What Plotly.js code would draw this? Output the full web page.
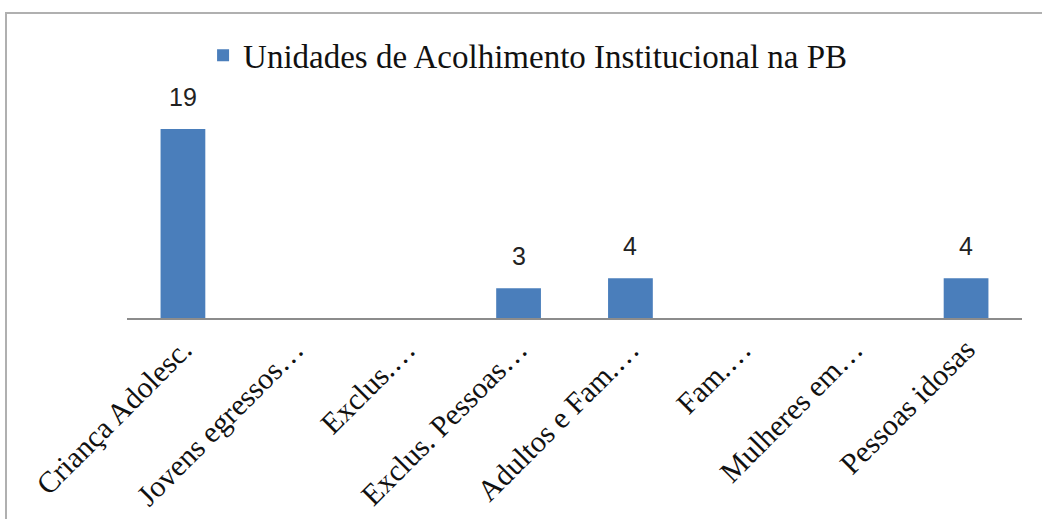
<!DOCTYPE html>
<html>
<head>
<meta charset="utf-8">
<script src="https://cdn.plot.ly/plotly-3.0.1.min.js"></script>
<style>
html,body{margin:0;padding:0;background:#fff;}
#chart{width:1042px;height:519px;position:relative;}
#frame{position:absolute;left:5px;top:12px;width:1100px;height:600px;border-left:2px solid #b0b0b0;border-top:2px solid #b0b0b0;pointer-events:none;}
</style>
</head>
<body>
<div id="chart"></div>
<div id="frame"></div>
<script>
const categories = ["Criança Adolesc.", "Jovens egressos…", "Exclus.…", "Exclus. Pessoas…", "Adultos e Fam.…", "Fam.…", "Mulheres em…", "Pessoas idosas"];
const values = [19, null, null, 3, 4, null, null, 4];
const seriesName = "Unidades de Acolhimento Institucional na PB";

const trace = {
  type: 'bar',
  x: categories,
  y: values,
  name: seriesName,
  marker: {color: '#4a7ebb'},
  showlegend: true
};

const annotations = [];
categories.forEach((c, i) => {
  if (values[i] !== null && values[i] !== undefined) {
    annotations.push({
      x: c, y: values[i], xref: 'x', yref: 'y',
      text: String(values[i]), showarrow: false,
      yanchor: 'bottom', yshift: 16,
      font: {family: 'Liberation Sans, Arial, sans-serif', size: 25, color: '#222'}
    });
  }
});

const layout = {
  width: 1042, height: 519,
  margin: {l: 127, r: 20, t: 119, b: 201},
  paper_bgcolor: '#fff', plot_bgcolor: '#fff',
  bargap: 0.6,
  showlegend: true,
  font: {family: 'serif', color: '#111'},
  legend: {
    orientation: 'h', x: 0.085, xanchor: 'left', y: 1.32, yanchor: 'middle',
    font: {family: 'serif', size: 33, color: '#111'},
    bgcolor: 'rgba(0,0,0,0)'
  },
  annotations: annotations,
  xaxis: {
    type: 'category',
    showline: true, linecolor: '#8c8c8c', linewidth: 2,
    ticks: '', tickangle: -45,
    tickfont: {family: 'serif', size: 30, color: '#111'},
    showgrid: false, zeroline: false
  },
  yaxis: {
    range: [0, 20], visible: false, showgrid: false, zeroline: false
  }
};

Plotly.newPlot('chart', [trace], layout, {displayModeBar: false, staticPlot: true});
</script>
</body>
</html>
